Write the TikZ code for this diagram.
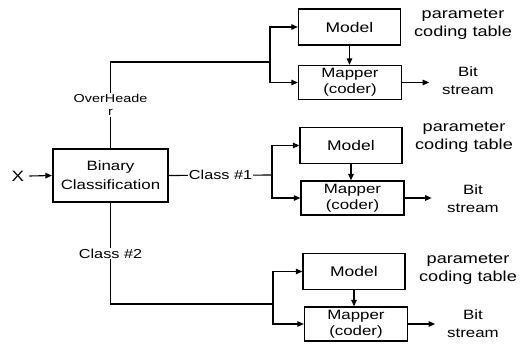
\documentclass[tikz,border=0pt]{standalone}
\usepackage{fontspec}
\setmainfont{Liberation Sans}[FakeStretch=1.25]
\usetikzlibrary{arrows.meta}

\tikzset{
  wire/.style={line width=1.1pt},
  arr/.style={wire, -{Triangle[length=6.5pt,width=5.5pt]}},
  classbox/.style={draw, line width=2.2pt, minimum width=115pt, minimum height=53pt,
    inner sep=0pt, align=center, font=\fontsize{13.5}{19}\selectfont},
  modelbox/.style={draw, line width=1.3pt, minimum width=102pt, minimum height=36pt,
    inner sep=0pt, font=\fontsize{14}{16}\selectfont},
  mapperbox/.style={draw, line width=1.3pt, minimum width=103pt, minimum height=34pt,
    inner sep=0pt, align=center, font=\fontsize{13.5}{16}\selectfont},
  paramtext/.style={align=center, inner sep=0pt, font=\fontsize{14.5}{18}\selectfont},
  bittext/.style={align=center, inner sep=0pt, font=\fontsize{13.5}{18}\selectfont},
  wirelabel/.style={fill=white, inner sep=1pt, align=center, font=\fontsize{13}{13}\selectfont},
}

\begin{document}
\begin{tikzpicture}[x=1pt, y=-1pt]
\useasboundingbox (0,0) rectangle (525,346);

% input and classifier
\node[font=\fontsize{15}{16}\selectfont, inner sep=0pt] (x) at (18,176) {X};
\node[classbox] (bc) at (110.5,175.5) {Binary\\Classification};
\draw[arr] (x.east) ++(5,0) coordinate (xs) (xs) -- (bc.west);

% branch junctions
\coordinate (j1) at (270,62);
\coordinate (j2) at (272,175);
\coordinate (j3) at (273,304);

% coder blocks: model above, mapper below
\node[modelbox]  (m1) at (349.5,27)  {Model};
\node[mapperbox] (p1) at (350,82.5)  {Mapper\\(coder)};
\node[modelbox]  (m2) at (351,145.5) {Model};
\node[mapperbox] (p2) at (352.5,198) {Mapper\\(coder)};
\node[modelbox]  (m3) at (354,271.5) {Model};
\node[mapperbox] (p3) at (356,324)   {Mapper\\(coder)};

% side texts
\node[paramtext] (t1) at (463,24)  {parameter\\coding table};
\node[paramtext] (t2) at (464,137) {parameter\\coding table};
\node[paramtext] (t3) at (468,269) {parameter\\coding table};
\node[bittext] (b1) at (468,81)  {Bit\\stream};
\node[bittext] (b2) at (473,199) {Bit\\stream};
\node[bittext] (b3) at (473,324) {Bit\\stream};

% classifier outputs
\draw[wire] (bc.north) -- node[wirelabel, font=\fontsize{11.5}{13}\selectfont, pos=0.5] {OverHeade\\r} (bc.north |- j1) -- (j1);
\draw[wire] (bc.east) -- node[wirelabel, pos=0.5] {Class \#1} (j2);
\draw[wire] (bc.south) -- node[wirelabel, pos=0.5] {Class \#2} (bc.south |- j3) -- (j3);

% fan-out to each model and mapper
\foreach \j/\m/\p in {j1/m1/p1, j2/m2/p2, j3/m3/p3} {
  \draw[arr] (\j) |- (\m.west);
  \draw[arr] (\j) |- (\p.west);
  \draw[arr] (\m.south) -- (\m.south |- \p.north);
}

% bit stream outputs
\foreach \p/\n in {p1/1, p2/2, p3/3} {
  \coordinate (o\n) at ([xshift=27pt]\p.east);
  \draw[arr] (\p.east) -- (o\n);
}
\end{tikzpicture}
\end{document}
